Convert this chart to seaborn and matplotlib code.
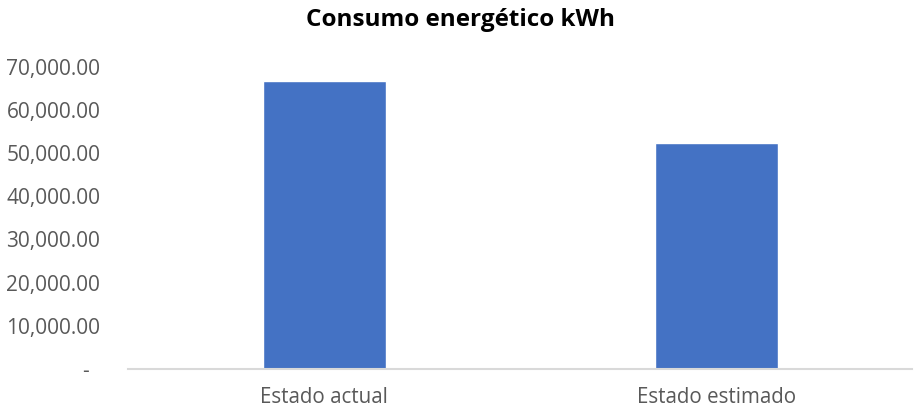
import matplotlib
matplotlib.use("Agg")
import matplotlib.pyplot as plt
import seaborn as sns
import pandas as pd

categories = ["Estado actual", "Estado estimado"]
consumo_kwh = [66800, 52300]
y_ticks = [0, 10000, 20000, 30000, 40000, 50000, 60000, 70000]

df = pd.DataFrame({"estado": categories, "kwh": consumo_kwh})

sns.set_style("white")
plt.rcParams["font.family"] = ["Open Sans", "DejaVu Sans"]

fig = plt.figure(figsize=(9.15, 4.15), dpi=100)
ax = fig.add_axes([0.14, 0.111, 0.857, 0.728])

sns.barplot(data=df, x="estado", y="kwh", color="#4472C4", width=0.314,
            saturation=1, ax=ax)

ax.set_ylim(0, 70000)
ax.set_xlim(-0.5, 1.5)
ax.set_yticks(y_ticks)
ax.set_yticklabels(["-  "] + [f"{v:,.2f}" for v in y_ticks[1:]])
ax.tick_params(axis="y", length=0, pad=20, labelsize=15, labelcolor="#595959")
ax.tick_params(axis="x", length=0, pad=13, labelsize=14.8, labelcolor="#595959")
ax.set_xlabel("")
ax.set_ylabel("")

for side in ["top", "right", "left"]:
    ax.spines[side].set_visible(False)
ax.spines["bottom"].set_color("#D9D9D9")
ax.spines["bottom"].set_linewidth(1.5)

fig.text(0.503, 0.952, "Consumo energético kWh", ha="center", va="center",
         fontsize=17.5, fontweight="bold", color="black")

fig.savefig("out.png", dpi=100, facecolor="white")
